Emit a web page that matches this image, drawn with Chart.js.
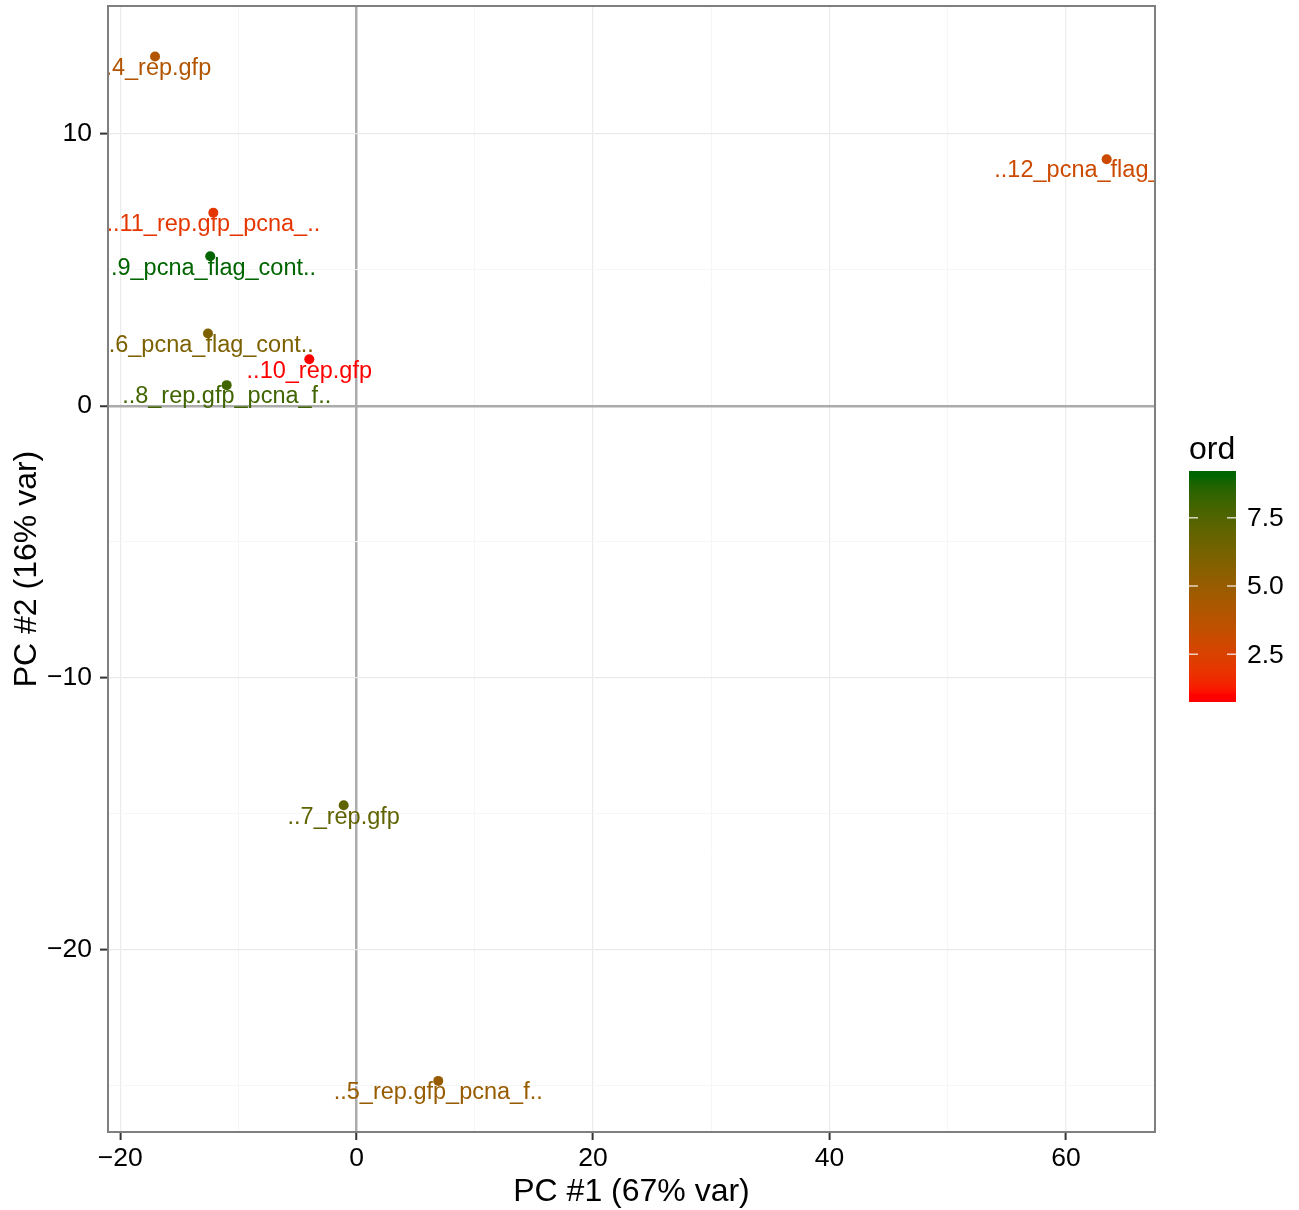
<!DOCTYPE html>
<html>
<head>
<meta charset="utf-8">
<script src="https://cdn.jsdelivr.net/npm/chart.js@4.4.1/dist/chart.umd.min.js"></script>
<style>
  html, body { margin: 0; padding: 0; background: #fff; }
  canvas { display: block; }
</style>
</head>
<body>
<canvas id="pca" width="1299" height="1210"></canvas>
<script>
// sample names, PC scores and ord (colour) value per sample
const sampleLabels = ['..4_rep.gfp', '..12_pcna_flag_cont..', '..11_rep.gfp_pcna_..', '..9_pcna_flag_cont..',
  '..6_pcna_flag_cont..', '..10_rep.gfp', '..8_rep.gfp_pcna_f..', '..7_rep.gfp', '..5_rep.gfp_pcna_f..'];
const pc1 = [-17.06, 63.45, -12.13, -12.39, -12.58, -4.01, -11.0, -1.10, 6.90];
const pc2 = [12.85, 9.07, 7.10, 5.50, 2.66, 1.71, 0.76, -14.70, -24.84];
const ord = [4, 3, 2, 9, 6, 1, 8, 7, 5];
const ordLimits = [1, 9];
const ordTicks = [2.5, 5.0, 7.5];

const FONT = '"Liberation Sans", Arial, Helvetica, sans-serif';

// colour scale: red -> darkgreen, interpolated in CIE Lab like ggplot
function toLab(hex) {
  const c = [1, 3, 5].map(i => parseInt(hex.substr(i, 2), 16) / 255)
    .map(v => v <= 0.04045 ? v / 12.92 : Math.pow((v + 0.055) / 1.055, 2.4));
  const X = (0.4124 * c[0] + 0.3576 * c[1] + 0.1805 * c[2]) / 0.95047;
  const Y = 0.2126 * c[0] + 0.7152 * c[1] + 0.0722 * c[2];
  const Z = (0.0193 * c[0] + 0.1192 * c[1] + 0.9505 * c[2]) / 1.08883;
  const f = t => t > 0.008856 ? Math.cbrt(t) : 7.787 * t + 16 / 116;
  return [116 * f(Y) - 16, 500 * (f(X) - f(Y)), 200 * (f(Y) - f(Z))];
}
function fromLab([L, a, b]) {
  const fy = (L + 16) / 116, fx = fy + a / 500, fz = fy - b / 200;
  const g = t => t > 0.206893 ? t * t * t : (t - 16 / 116) / 7.787;
  const X = g(fx) * 0.95047, Y = g(fy), Z = g(fz) * 1.08883;
  const lin = [
    3.2406 * X - 1.5372 * Y - 0.4986 * Z,
    -0.9689 * X + 1.8758 * Y + 0.0415 * Z,
    0.0557 * X - 0.2040 * Y + 1.0570 * Z
  ];
  const rgb = lin.map(v => v <= 0.0031308 ? 12.92 * v : 1.055 * Math.pow(v, 1 / 2.4) - 0.055)
    .map(v => Math.round(Math.min(1, Math.max(0, v)) * 255));
  return 'rgb(' + rgb.join(',') + ')';
}
const labLow = toLab('#FF0000');
const labHigh = toLab('#006400');
function ordColour(v) {
  let t = (v - ordLimits[0]) / (ordLimits[1] - ordLimits[0]);
  t = Math.min(1, Math.max(0, t));
  return fromLab(labLow.map((l, i) => l + (labHigh[i] - l) * t));
}
const pointColours = ord.map(ordColour);

const minus = v => String(v).replace('-', '\u2212');

const gridColour = (ctx, major) => {
  const v = ctx.tick.value;
  if (Math.abs(v) < 1e-9) return '#ABABAB';
  return major(v) ? '#EBEBEB' : '#F6F6F6';
};

const xMajor = v => Math.abs(v % 20) < 1e-9;
const yMajor = v => Math.abs(v % 10) < 1e-9;

const sampleText = {
  id: 'sampleText',
  afterDatasetsDraw(chart) {
    const { ctx, chartArea: a } = chart;
    const meta = chart.getDatasetMeta(0);
    ctx.save();
    ctx.beginPath();
    ctx.rect(a.left, a.top, a.right - a.left, a.bottom - a.top);
    ctx.clip();
    ctx.font = '23.5px ' + FONT;
    ctx.textAlign = 'center';
    ctx.textBaseline = 'alphabetic';
    meta.data.forEach((pt, i) => {
      ctx.fillStyle = pointColours[i];
      ctx.fillText(sampleLabels[i], pt.x, pt.y + 18.2);
    });
    ctx.restore();
  }
};

const panelAndLegend = {
  id: 'panelAndLegend',
  afterDraw(chart) {
    const { ctx, chartArea: a } = chart;
    ctx.save();
    // panel border
    ctx.strokeStyle = '#7F7F7F';
    ctx.lineWidth = 2;
    ctx.strokeRect(a.left, a.top, a.right - a.left, a.bottom - a.top);

    // colourbar
    const bx = 1189, bw = 47, by0 = 471, by1 = 702;
    const yOf = v => 654.3 - (v - 2.5) * 27.32;
    for (let y = by0; y < by1; y++) {
      const v = 2.5 + (654.3 - (y + 0.5)) / 27.32;
      ctx.fillStyle = ordColour(v);
      ctx.fillRect(bx, y, bw, 1);
    }
    ctx.strokeStyle = 'rgba(255,255,255,0.75)';
    ctx.lineWidth = 1.5;
    ctx.fillStyle = '#000';
    ctx.font = '26.5px ' + FONT;
    ctx.textAlign = 'left';
    ctx.textBaseline = 'middle';
    ordTicks.forEach(t => {
      const y = yOf(t);
      ctx.beginPath();
      ctx.moveTo(bx, y); ctx.lineTo(bx + 9, y);
      ctx.moveTo(bx + bw - 9, y); ctx.lineTo(bx + bw, y);
      ctx.stroke();
      ctx.fillText(t.toFixed(1), 1247, y + 1);
    });
    ctx.font = '32px ' + FONT;
    ctx.textBaseline = 'alphabetic';
    ctx.fillText('ord', 1189, 459);
    ctx.restore();
  }
};

new Chart(document.getElementById('pca'), {
  type: 'scatter',
  data: {
    datasets: [{
      data: pc1.map((x, i) => ({ x, y: pc2[i] })),
      backgroundColor: pointColours,
      borderWidth: 0,
      pointRadius: 5,
      pointHoverRadius: 5
    }]
  },
  options: {
    responsive: false,
    animation: false,
    devicePixelRatio: 1,
    layout: { padding: { left: 0, right: 144, top: 6, bottom: 0 } },
    plugins: { legend: { display: false }, tooltip: { enabled: false } },
    scales: {
      x: {
        type: 'linear',
        min: -21.04,
        max: 67.54,
        afterFit: s => { s.height = 78; s.paddingLeft = 0; s.paddingRight = 0; },
        border: { display: false },
        grid: {
          color: ctx => gridColour(ctx, xMajor),
          lineWidth: ctx => Math.abs(ctx.tick.value) < 1e-9 ? 2.5 : (xMajor(ctx.tick.value) ? 1.2 : 1),
          tickColor: ctx => xMajor(ctx.tick.value) ? '#333' : 'rgba(0,0,0,0)',
          tickWidth: 2,
          tickLength: 8
        },
        ticks: {
          stepSize: 10,
          includeBounds: false,
          autoSkip: false,
          maxRotation: 0,
          padding: 3,
          color: '#000',
          font: { family: FONT, size: 26.5 },
          callback: v => xMajor(v) ? minus(v) : ''
        },
        title: {
          display: true,
          text: 'PC #1 (67% var)',
          color: '#000',
          font: { family: FONT, size: 32, lineHeight: 1 },
          padding: { top: 0, bottom: 2 }
        }
      },
      y: {
        type: 'linear',
        min: -26.72,
        max: 14.71,
        afterFit: s => { s.width = 108; s.paddingTop = 0; s.paddingBottom = 0; },
        border: { display: false },
        grid: {
          color: ctx => gridColour(ctx, yMajor),
          lineWidth: ctx => Math.abs(ctx.tick.value) < 1e-9 ? 2.5 : (yMajor(ctx.tick.value) ? 1.2 : 1),
          tickColor: ctx => yMajor(ctx.tick.value) ? '#333' : 'rgba(0,0,0,0)',
          tickWidth: 2,
          tickLength: 8
        },
        ticks: {
          stepSize: 5,
          includeBounds: false,
          autoSkip: false,
          padding: 8,
          color: '#000',
          font: { family: FONT, size: 26.5 },
          callback: v => yMajor(v) ? minus(v) : ''
        },
        title: {
          display: true,
          text: 'PC #2 (16% var)',
          color: '#000',
          font: { family: FONT, size: 32, lineHeight: 1 },
          padding: { top: 11, bottom: 0 }
        }
      }
    }
  },
  plugins: [sampleText, panelAndLegend]
});
</script>
</body>
</html>
